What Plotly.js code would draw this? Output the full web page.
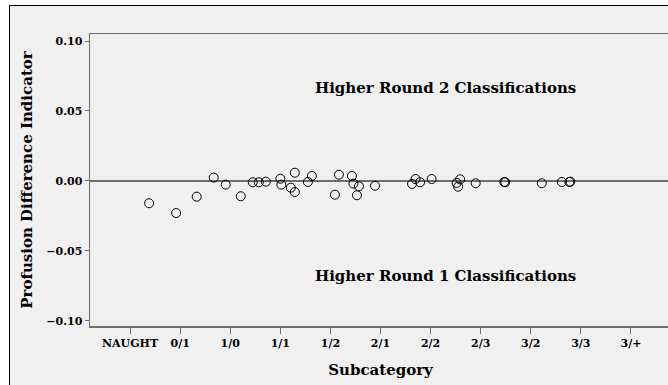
<!DOCTYPE html>
<html>
<head>
<meta charset="utf-8">
<script src="https://cdn.plot.ly/plotly-3.0.1.min.js"></script>
<style>
  html, body { margin: 0; padding: 0; width: 668px; height: 385px; overflow: hidden; background: #ffffff; }
  #frame { position: absolute; left: 9px; top: 5px; width: 700px; height: 400px; background: #f0f0f0; border-top: 1px solid #000; border-left: 1px solid #000; }
  #chart { position: absolute; left: 0; top: 0; width: 720px; height: 385px; }
</style>
</head>
<body>
<div id="frame"></div>
<div id="chart"></div>
<script>
// Category tick labels (x axis positions 0..10)
const categories = ["NAUGHT", "0/1", "1/0", "1/1", "1/2", "2/1", "2/2", "2/3", "3/2", "3/3", "3/+"];

// Scatter points: subcategory position and profusion difference indicator
const pointX = [0.38, 0.92, 1.33, 1.67, 1.91, 2.21, 2.45, 2.57, 2.71, 3.00,
                3.02, 3.21, 3.29, 3.29, 3.55, 3.63, 4.09, 4.17, 4.43, 4.46,
                4.53, 4.57, 4.89, 5.63, 5.70, 5.79, 6.02, 6.52, 6.59, 6.55,
                6.90, 7.47, 7.49, 8.22, 8.62, 8.77, 8.79];
const pointY = [-0.0159, -0.0229, -0.0112, 0.0024, -0.0026, -0.0109, -0.0009, -0.0009, -0.0005, 0.0016,
                -0.0026, -0.0048, 0.0059, -0.0079, -0.0007, 0.0036, -0.0098, 0.0045, 0.0036, -0.0019,
                -0.0102, -0.0038, -0.0034, -0.0021, 0.0014, -0.0009, 0.0014, -0.0014, 0.0012, -0.0041,
                -0.0016, -0.0007, -0.0009, -0.0016, -0.0007, -0.0007, -0.0005];

const yTicks = [-0.10, -0.05, 0.00, 0.05, 0.10];
const yTickText = ["\u22120.10", "\u22120.05", "0.00", "0.05", "0.10"];

const regionLabels = ["Higher Round 2 Classifications", "Higher Round 1 Classifications"];
const regionLabelY = [0.0665, -0.0679];

const serif = "DejaVu Serif, Liberation Serif, serif";

const trace = {
  x: pointX, y: pointY, type: "scatter", mode: "markers",
  marker: { symbol: "circle-open", size: 9, color: "#000000", line: { width: 1, color: "#000000" } },
  hoverinfo: "skip"
};

const layout = {
  width: 720, height: 385,
  margin: { l: 90, r: 49, t: 34, b: 59, pad: 0 },
  paper_bgcolor: "rgba(0,0,0,0)", plot_bgcolor: "rgba(0,0,0,0)",
  showlegend: false,
  xaxis: {
    range: [-0.8, 10.8], tickmode: "array",
    tickvals: categories.map((c, i) => i), ticktext: categories,
    showgrid: false, zeroline: false,
    showline: true, mirror: true, linecolor: "#6e6e6e", linewidth: 1.5,
    ticks: "outside", ticklen: 6, tickwidth: 1, tickcolor: "#6e6e6e",
    tickfont: { family: serif, size: 11, color: "#000000", weight: "bold" },
    title: { text: "<b>Subcategory</b>", font: { family: serif, size: 15, color: "#000000" }, standoff: 16 }
  },
  yaxis: {
    range: [-0.1036, 0.105], tickmode: "array",
    tickvals: yTicks, ticktext: yTickText,
    showgrid: false, zeroline: true, zerolinecolor: "#6e6e6e", zerolinewidth: 1.5,
    showline: true, mirror: true, linecolor: "#6e6e6e", linewidth: 1.5,
    ticks: "outside", ticklen: 4, tickwidth: 1, tickcolor: "#6e6e6e",
    tickfont: { family: serif, size: 11, color: "#000000", weight: "bold" },
    title: { text: "<b>Profusion Difference Indicator</b>", font: { family: serif, size: 15, color: "#000000" }, standoff: 10 }
  },
  annotations: regionLabels.map((t, i) => ({
    text: "<b>" + t + "</b>", x: 6.3, y: regionLabelY[i], xref: "x", yref: "y",
    showarrow: false, font: { family: serif, size: 15, color: "#000000" }
  }))
};

Plotly.newPlot("chart", [trace], layout, { staticPlot: true, displayModeBar: false });
</script>
</body>
</html>
